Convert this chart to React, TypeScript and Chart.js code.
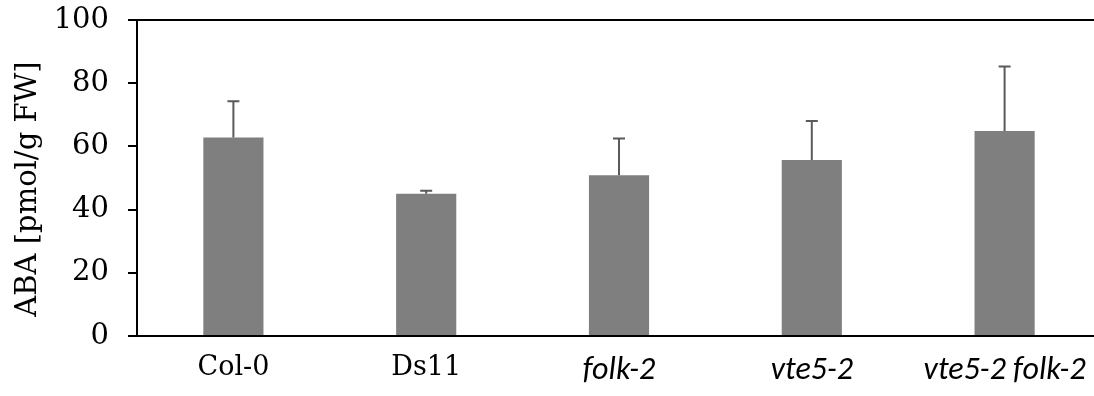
import React, { useEffect, useRef } from "react";
import { Chart, registerables } from "chart.js";

Chart.register(...registerables);

const categories = ["Col-0", "Ds11", "folk-2", "vte5-2", "vte5-2 folk-2"];
const italicLabels = [false, false, true, true, true];
const abaValues = [62.8, 45.0, 50.9, 55.7, 64.9];
const abaErrors = [11.5, 1.0, 11.6, 12.3, 20.4];
const yTicks = [0, 20, 40, 60, 80, 100];
const yTitle = "ABA [pmol/g FW]";

const errorBarPlugin = {
  id: "errorBars",
  afterDatasetsDraw(chart: any) {
    const ctx = chart.ctx;
    const meta = chart.getDatasetMeta(0);
    const yScale = chart.scales.y;
    ctx.save();
    ctx.strokeStyle = "#5a5a5a";
    ctx.lineWidth = 2;
    meta.data.forEach((bar: any, i: number) => {
      const v = abaValues[i];
      const e = abaErrors[i];
      const x = bar.x;
      const y0 = yScale.getPixelForValue(v);
      const y1 = yScale.getPixelForValue(v + e);
      ctx.beginPath();
      ctx.moveTo(x, y0);
      ctx.lineTo(x, y1);
      ctx.moveTo(x - 6, y1);
      ctx.lineTo(x + 6, y1);
      ctx.stroke();
    });
    // frame lines: top (at axis max), left axis, bottom axis
    const left = Math.round(chart.chartArea.left);
    const yTop = Math.round(yScale.getPixelForValue(yTicks[yTicks.length - 1]));
    const yBot = Math.round(yScale.getPixelForValue(yTicks[0]));
    ctx.strokeStyle = "#000";
    ctx.lineWidth = 2;
    ctx.beginPath();
    ctx.moveTo(left - 9, yTop);
    ctx.lineTo(chart.width, yTop);
    ctx.moveTo(left, yTop);
    ctx.lineTo(left, yBot);
    ctx.moveTo(left - 9, yBot);
    ctx.lineTo(chart.width, yBot);
    ctx.stroke();
    ctx.restore();
  },
  afterDraw(chart: any) {
    const ctx = chart.ctx;
    const yScale = chart.scales.y;
    const mid = (yScale.top + yScale.bottom) / 2 + 11;
    ctx.save();
    ctx.translate(28, mid);
    ctx.rotate(-Math.PI / 2);
    ctx.font = "29px 'DejaVu Serif', serif";
    ctx.fillStyle = "#000";
    ctx.textAlign = "center";
    ctx.textBaseline = "middle";
    ctx.fillText(yTitle, 0, 0);
    ctx.restore();
  },
};

export default function App() {
  const ref = useRef<HTMLCanvasElement>(null);

  useEffect(() => {
    document.body.style.margin = "0";
    const chart = new Chart(ref.current!, {
      type: "bar",
      data: {
        labels: categories,
        datasets: [
          {
            data: abaValues,
            backgroundColor: "#7f7f7f",
            borderWidth: 0,
            barPercentage: 0.312,
            categoryPercentage: 1,
          },
        ],
      },
      options: {
        responsive: false,
        animation: false,
        plugins: {
          legend: { display: false },
          tooltip: { enabled: false },
        },
        layout: { padding: { top: 20, right: 0, left: 0, bottom: 0 } },
        scales: {
          x: {
            grid: { display: false, drawTicks: false, drawOnChartArea: false },
            border: { display: false },
            ticks: {
              color: "#000",
              padding: 16,
              font: (c: any) => ({
                family: italicLabels[c.index] ? "Carlito, Lato, sans-serif" : "'DejaVu Serif', serif",
                size: italicLabels[c.index] ? 32 : 27,
                style: italicLabels[c.index] ? "italic" : "normal",
              }),
            },
            afterFit: (s: any) => {
              s.height = 60;
              s.paddingLeft = 0;
              s.paddingRight = 0;
            },
          },
          y: {
            min: 0,
            max: 100,
            afterBuildTicks: (s: any) => {
              s.ticks = yTicks.map((v) => ({ value: v }));
            },
            grid: {
              drawOnChartArea: false,
              tickColor: "#000",
              tickLength: 9,
              tickWidth: 2,
              lineWidth: 2,
            },
            border: { display: false },
            ticks: {
              color: "#000",
              padding: 19,
              font: { family: "'DejaVu Serif', serif", size: 29 },
            },
            title: { display: false, text: yTitle },
            afterFit: (s: any) => {
              s.width = 137;
              s.paddingTop = 0;
              s.paddingBottom = 0;
            },
          },
        },
      },
      plugins: [errorBarPlugin],
    });
    return () => chart.destroy();
  }, []);

  return (
    <div style={{ width: 1094, height: 396, overflow: "hidden" }}>
      <canvas ref={ref} width={1101} height={396} style={{ display: "block" }} />
    </div>
  );
}
